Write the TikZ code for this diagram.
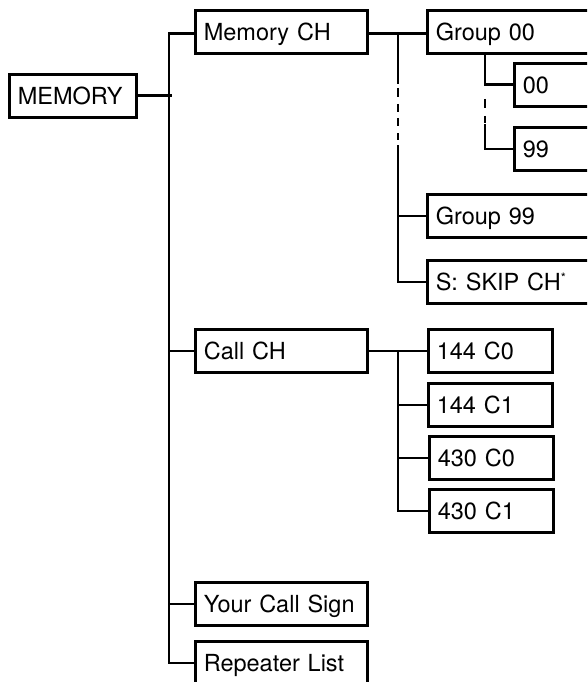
\documentclass[tikz,border=0pt]{standalone}
\usepackage{fontspec}
\setmainfont{TeX Gyre Heros}
\begin{document}
\begin{tikzpicture}[x=1pt,y=-1pt,
  box/.style={draw, line width=2.6pt, anchor=north west, align=left,
    inner xsep=8.5pt, inner ysep=0pt, minimum height=43pt,
    text height=17pt, text depth=0pt, font=\fontsize{23.5}{28}\selectfont},
  wire/.style={line width=2.6pt, line join=miter},
  ]
\useasboundingbox (0,0) rectangle (587,682);
\clip (0,0) rectangle (587,682);

% level 1
\node[box, text width=110pt] (mem) at (8,73) {MEMORY};
% level 2
\node[box, text width=155pt] (memch) at (194,9) {Memory CH};
\node[box, text width=155pt] (callch) at (194,328) {Call CH};
\node[box, text width=155pt] (ycs) at (194,581) {Your Call Sign};
\node[box, text width=155pt] (rep) at (194,640) {Repeater List};
% memory channels
\node[box, text width=157pt] (g00) at (426,9) {Group 00};
\node[box, text width=70pt] (s00) at (513,62) {00};
\node[box, text width=70pt] (s99) at (513,126) {99};
\node[box, text width=157pt] (g99) at (426,193) {Group 99};
\node[box, text width=157pt] (skip) at (426,259) {S: SKIP CH\raisebox{7.5pt}{\fontsize{13}{13}\selectfont *}};
% call channels
\node[box, text width=107pt] (c0) at (427,328) {144 C0};
\node[box, text width=107pt] (c1) at (427,382) {144 C1};
\node[box, text width=107pt] (c2) at (428,435) {430 C0};
\node[box, text width=107pt] (c3) at (428,488) {430 C1};

% trunk
\coordinate (t) at (169,0);
\draw[wire] (mem.east) -- ([xshift=3pt]mem.east -| t);
\draw[wire] ([yshift=-1.5pt]memch.west) -- ([yshift=-1.5pt]memch.west -| t)
  -- (rep.west -| t) -- (rep.west);
\draw[wire] (callch.west) -- (callch.west -| t);
\draw[wire] (ycs.west) -- (ycs.west -| t);

% memory CH branch
\coordinate (g) at (398,0);
\coordinate (gA) at (398,84);
\coordinate (gB) at (398,145);
\draw[wire] ([yshift=-1.5pt]memch.east) -- ([yshift=-1.5pt]g00.west);
\draw[wire] ([yshift=-1.5pt]g00.west -| g) -- (gA);
\draw[wire, dash pattern=on 0pt off 4pt on 9pt off 7pt on 8pt off 6pt on 8pt off 7pt on 7pt off 5pt] (gA) -- (gB);
\draw[wire] (gB) -- (skip.west -| g) -- (skip.west);
\draw[wire] (g99.west) -- (g99.west -| g);

% group 00 branch
\coordinate (h) at (485,0);
\coordinate (hB) at (485,124);
\draw[wire] (g00.south -| h) -- (s00.west -| h) -- (s00.west);
\draw[wire, dash pattern=on 0pt off 14pt on 9pt off 8pt on 7pt off 10pt] (s00.west -| h) -- (hB);
\draw[wire] (hB) -- (s99.west -| h) -- (s99.west);

% call CH branch
\coordinate (c) at (398,0);
\draw[wire] (callch.east) -- (c0.west);
\draw[wire] (callch.east -| c) -- (c3.west -| c) -- (c3.west);
\draw[wire] (c1.west -| c) -- (c1.west);
\draw[wire] (c2.west -| c) -- (c2.west);
\end{tikzpicture}
\end{document}
